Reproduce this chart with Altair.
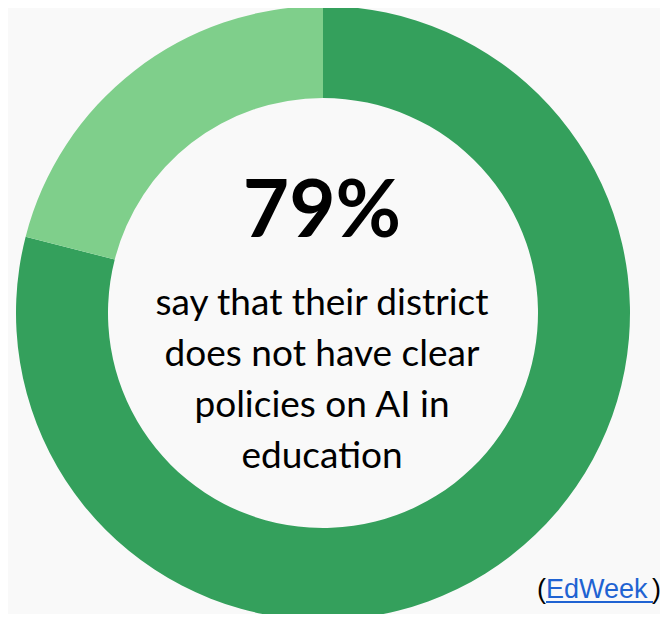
import altair as alt
import pandas as pd

# Data
categories = ["No clear AI policy", "Has clear AI policy"]
values = [79, 21]
colors = ["#34a05c", "#7fcf8b"]
headline = "79%"
body_lines = ["say that their district", "does not have clear", "policies on AI in", "education"]
source_text = "EdWeek"

df = pd.DataFrame({"category": categories, "value": values, "order": [0, 1]})

W, H = 652, 606
CX, CY = 315, 305

donut = alt.Chart(df).mark_arc(innerRadius=215, outerRadius=307).encode(
    theta=alt.Theta("value:Q", stack=True),
    color=alt.Color("category:N", scale=alt.Scale(domain=categories, range=colors), legend=None),
    order=alt.Order("order:Q"),
    x=alt.value(CX),
    y=alt.value(CY),
)

layers = [donut]

layers.append(
    alt.Chart(pd.DataFrame({"t": [headline]})).mark_text(
        font="Lato", fontWeight="bold", fontSize=80, color="#000000",
        align="center", baseline="alphabetic"
    ).encode(text="t:N", x=alt.value(314), y=alt.value(229))
)

base_y = 307
step = 51
for i, line in enumerate(body_lines):
    layers.append(
        alt.Chart(pd.DataFrame({"t": [line]})).mark_text(
            font="Lato", fontSize=37, color="#000000",
            align="center", baseline="alphabetic"
        ).encode(text="t:N", x=alt.value(CX - 1), y=alt.value(base_y + i * step))
    )

src = pd.DataFrame({"t": [source_text]})
layers.append(
    alt.Chart(pd.DataFrame({"t": ["("]})).mark_text(
        font="Liberation Sans", fontSize=27, color="#000000", align="left", baseline="alphabetic"
    ).encode(text="t:N", x=alt.value(529), y=alt.value(590))
)
layers.append(
    alt.Chart(src).mark_text(
        font="Liberation Sans", fontSize=27, color="#1f63d2", align="left", baseline="alphabetic"
    ).encode(text="t:N", x=alt.value(538), y=alt.value(590))
)
layers.append(
    alt.Chart(pd.DataFrame({"t": [")"]})).mark_text(
        font="Liberation Sans", fontSize=27, color="#000000", align="right", baseline="alphabetic"
    ).encode(text="t:N", x=alt.value(653), y=alt.value(590))
)
layers.append(
    alt.Chart(src).mark_rule(color="#1f63d2", strokeWidth=2).encode(
        x=alt.value(538), x2=alt.value(645), y=alt.value(594)
    )
)

chart = alt.layer(*layers).properties(
    width=W, height=H, background="#f9f9f9", padding=0,
    autosize=alt.AutoSizeParams(type="none"),
).configure_view(stroke=None)

chart.save("out.html", embed_options={"renderer": "svg", "actions": False})
